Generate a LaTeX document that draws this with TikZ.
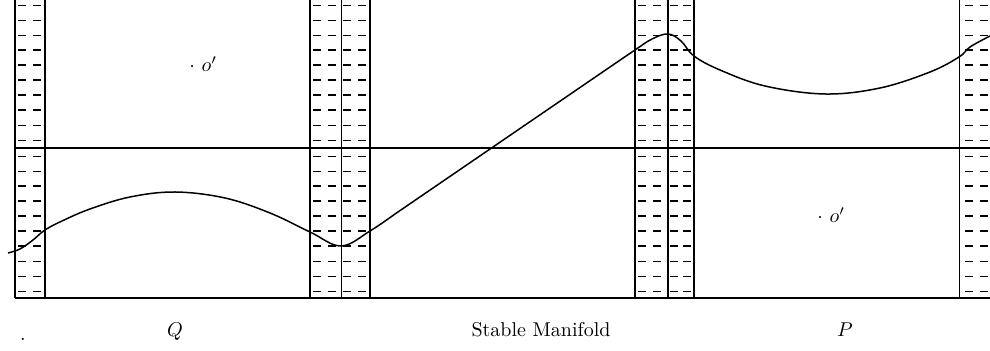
\documentclass[tikz,border=0pt]{standalone}
\begin{document}
\begin{tikzpicture}[x=0.5pt,y=-0.5pt,
  thickline/.style={line width=0.8pt},
  thinline/.style={line width=0.45pt},
  thindash/.style={line width=0.35pt},
  thickdash/.style={line width=0.85pt},
  curveline/.style={line width=0.75pt, line join=round},
  lbl/.style={anchor=base, inner sep=0pt},
  lblw/.style={anchor=base west, inner sep=0pt}]
\useasboundingbox (0,0) rectangle (990,351);
% vertical lines
\foreach \x in {15,45,310,370,635,668,694} \draw[thickline] (\x,0) -- (\x,298);
\foreach \x in {341,959} \draw[thinline] (\x,0) -- (\x,298);
% horizontal lines
\draw[thickline] (15,148) -- (990,148);
\draw[thickline] (15,298) -- (990,298);
% dashes
\foreach \a in {18,33,313,328,343,358,638,653,670,683,965,980} {
  \foreach \y in {5,20,35,125,140,156,171,261,276,291}
    \draw[thindash] (\a,\y) -- ++(7.5,0);
  \foreach \y in {50,65,80,95,110,186,201,216,231,246}
    \draw[thickdash] (\a,\y) -- ++(7.5,0);
}
% curve
\draw[curveline] plot[smooth, tension=0.6] coordinates {(8,253) (20,249) (33,240) (45,230) (62,221) (90,209) (130,197) (175,192) (225,198) (270,213) (310,232) (341,246) (370,231) (395,214)}
  -- (610,67)
  -- plot[smooth, tension=0.6] coordinates {(610,67) (635,50) (652,39) (668,34) (681,41) (694,56) (720,70) (765,86) (825,94) (880,88) (930,72) (959,57) (970,47) (990,36)};
% labels
\node[lblw] (o1) at (189,72) {$\cdot\ o'$};
\node[lblw] (o2) at (817,223) {$\cdot\ o'$};
\node[lbl] (q) at (175,337) {$Q$};
\node[lbl] (sm) at (541,337) {Stable Manifold};
\node[lbl] (p) at (845,337) {$P$};
\node[lbl] (dot) at (23,341) {.};
\end{tikzpicture}
\end{document}
